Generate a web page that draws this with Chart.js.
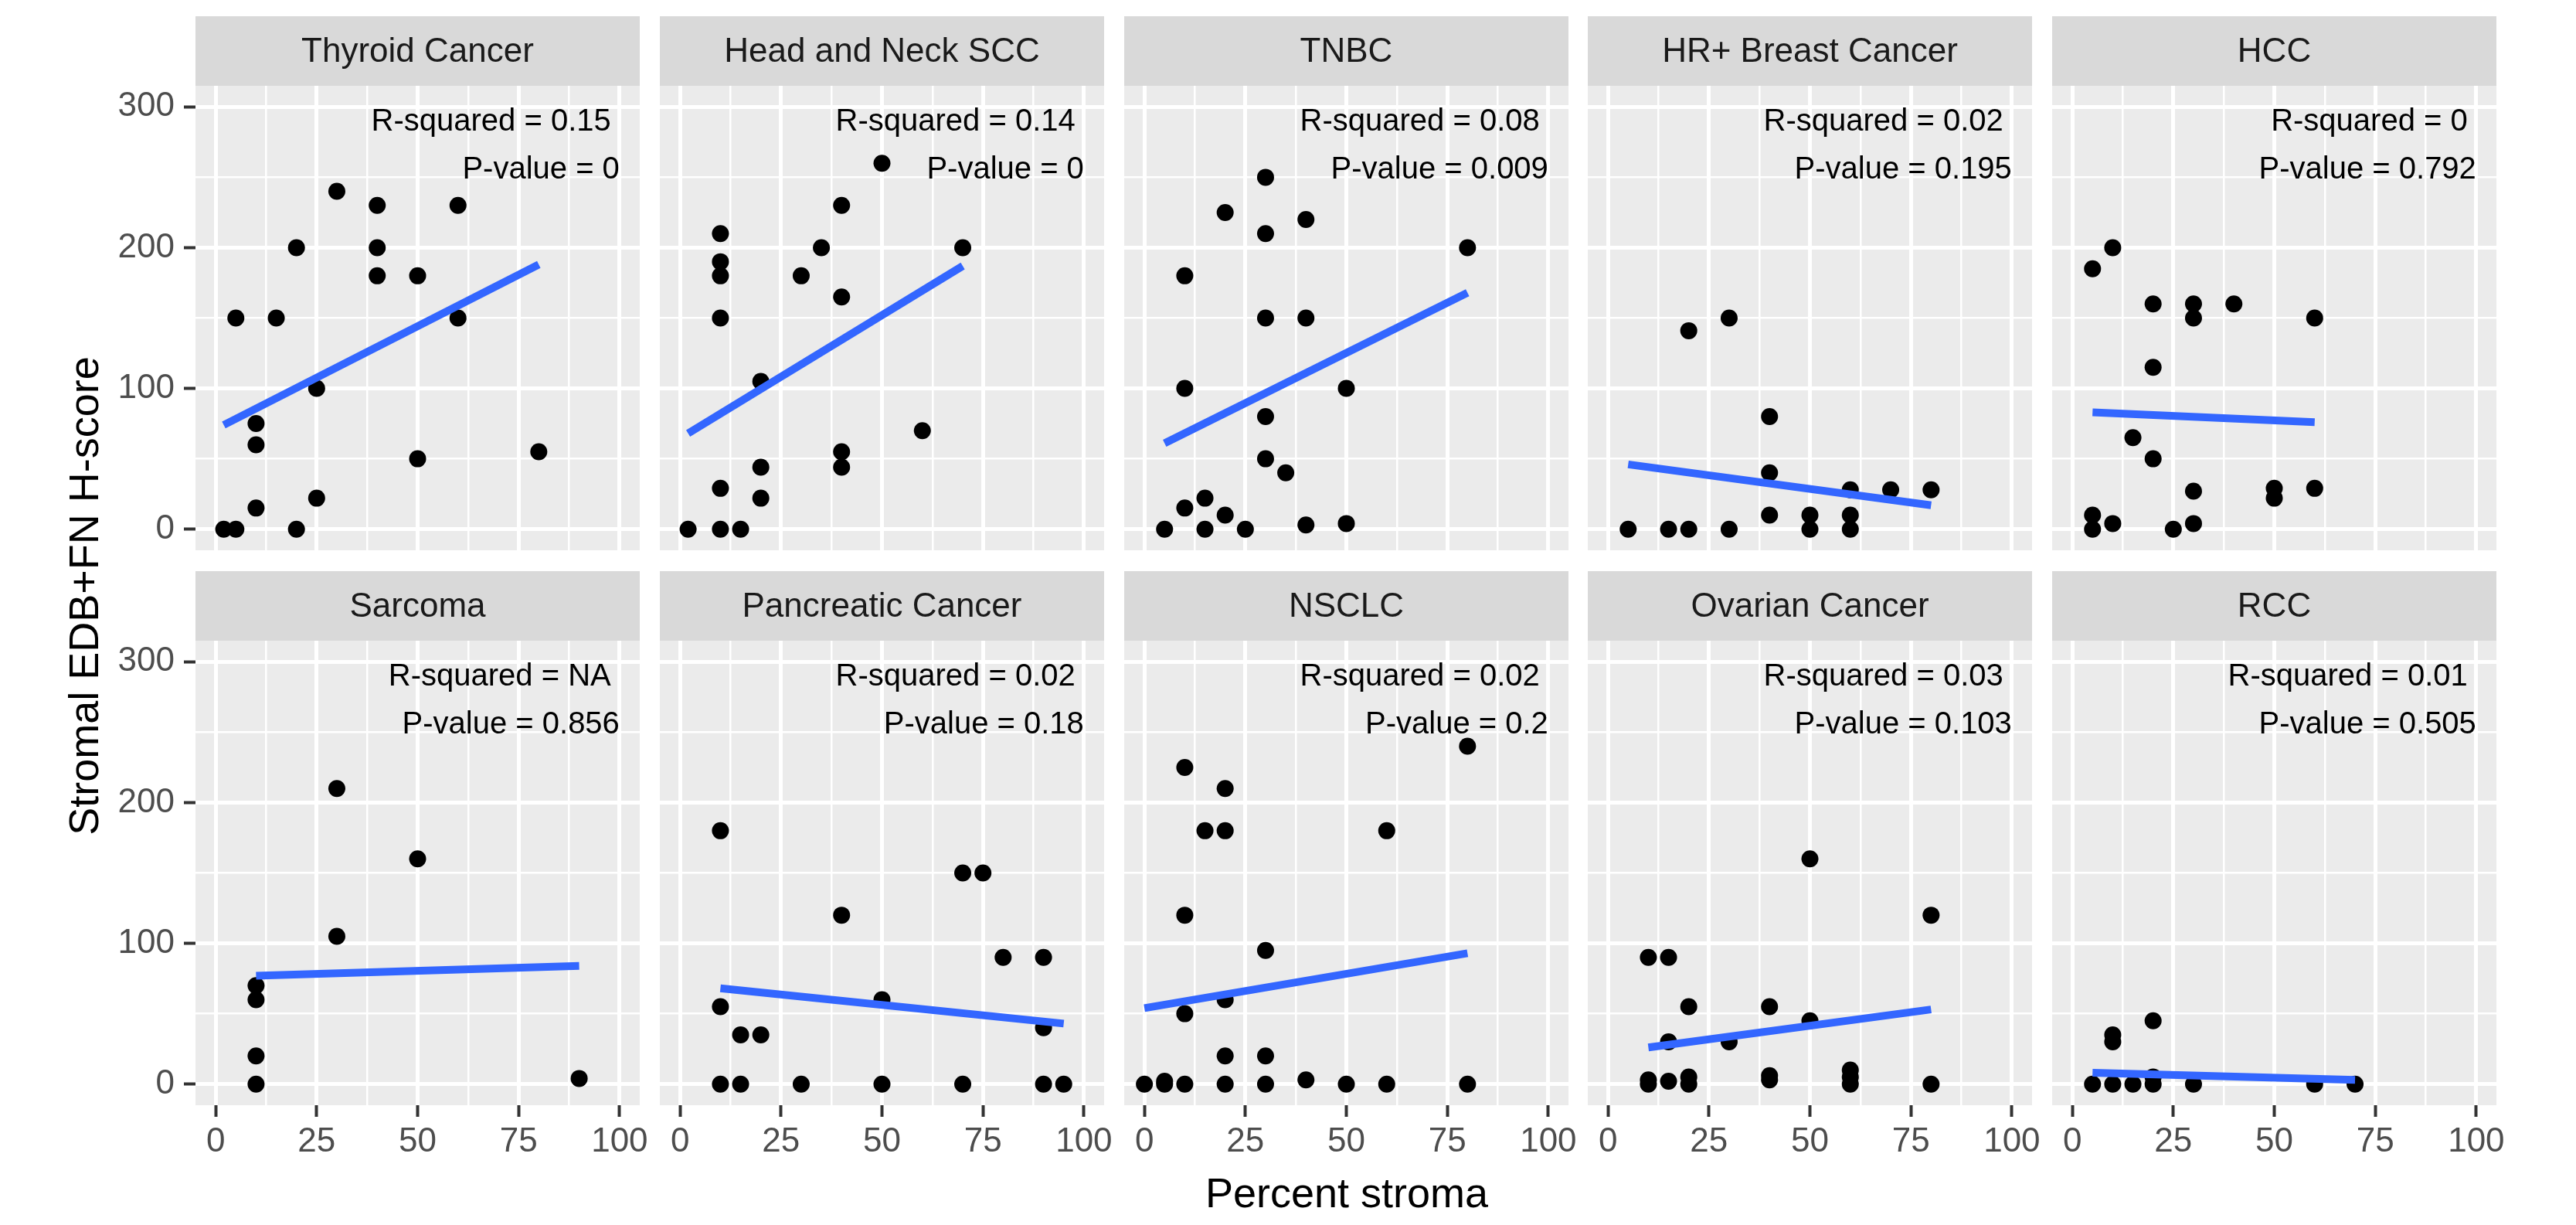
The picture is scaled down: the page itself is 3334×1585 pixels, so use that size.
<!DOCTYPE html>
<html lang="en">
<head>
<meta charset="UTF-8">
<title>Stromal EDB+FN H-score vs Percent stroma</title>
<style>
  body { margin: 0; background: #fff; }
  #wrap { position: relative; width: 3334px; height: 1585px; overflow: hidden; background: #fff; }
  #wrap canvas { position: absolute; }
  .axis-title { position: absolute; font-family: "Liberation Sans", Arial, sans-serif; font-size: 54px; line-height: 54px; color: #000; text-align: center; white-space: nowrap; }
  #ytitle { width: 800px; height: 54px; left: -292px; top: 744px; transform: rotate(-90deg); }
  #xtitle { width: 800px; height: 54px; left: 1343px; top: 1516px; }
</style>
<script src="https://cdn.jsdelivr.net/npm/chart.js"></script>
</head>
<body>
<div id="wrap">
  <div class="axis-title" id="ytitle">Stromal EDB+FN H-score</div>
  <div class="axis-title" id="xtitle">Percent stroma</div>
</div>
<script>
// facet labels and the stats printed in each panel
const panelNames = ['Thyroid Cancer', 'Head and Neck SCC', 'TNBC', 'HR+ Breast Cancer', 'HCC',
                    'Sarcoma', 'Pancreatic Cancer', 'NSCLC', 'Ovarian Cancer', 'RCC'];
const rSquaredText = ['0.15', '0.14', '0.08', '0.02', '0', 'NA', '0.02', '0.02', '0.03', '0.01'];
const pValueText = ['0', '0', '0.009', '0.195', '0.792', '0.856', '0.18', '0.2', '0.103', '0.505'];

// points: percent stroma (x) and H-score (y), one pair per panel
const thyroidStroma = [2, 5, 5, 15, 10, 10, 10, 20, 20, 25, 25, 30, 40, 40, 40, 50, 50, 60, 60, 80];
const thyroidScore  = [0, 0, 150, 150, 75, 60, 15, 200, 0, 100, 22, 240, 230, 200, 180, 180, 50, 230, 150, 55];

const hnsccStroma = [2, 10, 15, 10, 10, 10, 10, 10, 20, 20, 20, 30, 35, 40, 40, 40, 40, 50, 60, 70];
const hnsccScore  = [0, 0, 0, 29, 150, 180, 190, 210, 105, 44, 22, 180, 200, 230, 165, 55, 44, 260, 70, 200];

const tnbcStroma = [5, 10, 10, 10, 15, 15, 20, 20, 25, 30, 30, 30, 30, 30, 35, 40, 40, 40, 50, 50, 80];
const tnbcScore  = [0, 15, 180, 100, 22, 0, 225, 10, 0, 250, 210, 150, 80, 50, 40, 220, 150, 3, 100, 4, 200];

const hrStroma = [5, 15, 20, 20, 30, 30, 40, 40, 40, 50, 50, 60, 60, 60, 70, 80];
const hrScore  = [0, 0, 0, 141, 150, 0, 80, 40, 10, 0, 10, 0, 10, 28, 28, 28];

const hccStroma = [5, 10, 5, 5, 10, 15, 20, 20, 20, 25, 30, 30, 30, 30, 40, 50, 50, 60, 60];
const hccScore  = [185, 200, 10, 0, 4, 65, 160, 115, 50, 0, 160, 150, 27, 4, 160, 29, 22, 150, 29];

const sarcomaStroma = [10, 10, 10, 10, 30, 30, 50, 90];
const sarcomaScore  = [0, 20, 60, 70, 210, 105, 160, 4];

const pancStroma = [10, 10, 10, 15, 15, 20, 30, 40, 50, 50, 70, 70, 75, 80, 90, 90, 90, 95];
const pancScore  = [180, 55, 0, 0, 35, 35, 0, 120, 60, 0, 150, 0, 150, 90, 90, 40, 0, 0];

const nsclcStroma = [0, 5, 5, 10, 10, 10, 10, 15, 20, 20, 20, 20, 20, 30, 30, 30, 40, 50, 60, 60, 80, 80];
const nsclcScore  = [0, 0, 2, 0, 225, 120, 50, 180, 210, 180, 60, 20, 0, 95, 20, 0, 3, 0, 180, 0, 240, 0];

const ovarianStroma = [10, 10, 10, 15, 15, 15, 20, 20, 20, 30, 40, 40, 40, 50, 50, 60, 60, 60, 80, 80];
const ovarianScore  = [90, 0, 3, 90, 2, 30, 55, 0, 5, 30, 55, 3, 6, 160, 45, 0, 5, 10, 120, 0];

const rccStroma = [5, 10, 10, 10, 15, 20, 20, 20, 30, 60, 70];
const rccScore  = [0, 0, 30, 35, 0, 45, 5, 0, 0, 0, 0];

// fitted lines (start and end of each blue segment)
const fitXStart = [2, 2, 5, 5, 5, 10, 10, 0, 10, 5];
const fitXEnd   = [80, 70, 80, 80, 60, 90, 95, 80, 80, 70];
const fitYStart = [74, 68, 61, 46, 83, 77, 68, 54, 26, 8];
const fitYEnd   = [188, 187, 168, 17, 76, 84, 43, 93, 53, 3];

// axis ticks
const xTickLabels = [0, 25, 50, 75, 100];
const xGridValues = [0, 12.5, 25, 37.5, 50, 62.5, 75, 87.5, 100];
const yTickLabels = [0, 100, 200, 300];
const yGridValues = [0, 50, 100, 150, 200, 250, 300];

const panelStroma = [thyroidStroma, hnsccStroma, tnbcStroma, hrStroma, hccStroma,
                     sarcomaStroma, pancStroma, nsclcStroma, ovarianStroma, rccStroma];
const panelScore = [thyroidScore, hnsccScore, tnbcScore, hrScore, hccScore,
                    sarcomaScore, pancScore, nsclcScore, ovarianScore, rccScore];

// layout (px)
const FONT = '"Liberation Sans", Arial, sans-serif';
const plotW = 575, plotH = 601, stripH = 90;
const yAxisW = 120, xAxisH = 90, sidePad = 24, bottomPad = 60;
const colLeft = [253, 854, 1455, 2055, 2656];
const rowTop = [111, 829];

const wrap = document.getElementById('wrap');

// grey panel background + facet strip
const stripPlugin = {
  id: 'strip',
  beforeDraw(chart, args, opts) {
    const { ctx, chartArea: a } = chart;
    ctx.save();
    ctx.fillStyle = '#D9D9D9';
    ctx.fillRect(a.left, a.top - stripH, a.right - a.left, stripH);
    ctx.fillStyle = '#EBEBEB';
    ctx.fillRect(a.left, a.top, a.right - a.left, a.bottom - a.top);
    ctx.fillStyle = '#1A1A1A';
    ctx.font = '44px ' + FONT;
    ctx.textAlign = 'center';
    ctx.textBaseline = 'middle';
    ctx.fillText(opts.title, (a.left + a.right) / 2, a.top - stripH / 2 + 2);
    ctx.restore();
  }
};

// R-squared / P-value text, anchored top right
const statsPlugin = {
  id: 'stats',
  afterDatasetsDraw(chart, args, opts) {
    const { ctx, scales } = chart;
    const xr = scales.x.getPixelForValue(100);
    ctx.save();
    ctx.fillStyle = '#000';
    ctx.font = '40px ' + FONT;
    ctx.textAlign = 'right';
    ctx.textBaseline = 'middle';
    ctx.fillText('R-squared = ' + opts.r2 + ' ', xr, scales.y.getPixelForValue(289));
    ctx.fillText('P-value = ' + opts.p, xr, scales.y.getPixelForValue(255));
    ctx.restore();
  }
};

panelNames.forEach((name, i) => {
  const row = Math.floor(i / 5), col = i % 5;
  const isLeft = col === 0, isBottom = row === 1;
  const padL = isLeft ? 0 : sidePad;
  const padB = isBottom ? 0 : bottomPad;
  const cw = (isLeft ? yAxisW : padL) + plotW + sidePad;
  const ch = stripH + plotH + (isBottom ? xAxisH : padB);

  const canvas = document.createElement('canvas');
  canvas.width = cw;
  canvas.height = ch;
  canvas.style.width = cw + 'px';
  canvas.style.height = ch + 'px';
  canvas.style.left = (colLeft[col] - (isLeft ? yAxisW : padL)) + 'px';
  canvas.style.top = (rowTop[row] - stripH) + 'px';
  wrap.appendChild(canvas);

  const pts = panelStroma[i].map((x, k) => ({ x: x, y: panelScore[i][k] }));
  const fit = [{ x: fitXStart[i], y: fitYStart[i] }, { x: fitXEnd[i], y: fitYEnd[i] }];

  new Chart(canvas, {
    type: 'scatter',
    data: {
      datasets: [
        { data: fit, showLine: true, borderColor: '#3366FF', borderWidth: 10, borderCapStyle: 'butt',
          pointRadius: 0, order: 0 },
        { data: pts, backgroundColor: '#000000', borderWidth: 0, pointRadius: 11, order: 1 }
      ]
    },
    options: {
      responsive: false,
      animation: false,
      events: [],
      layout: { autoPadding: false, padding: { left: padL, right: sidePad, top: stripH, bottom: padB } },
      plugins: {
        legend: { display: false },
        tooltip: { enabled: false },
        strip: { title: name },
        stats: { r2: rSquaredText[i], p: pValueText[i] }
      },
      scales: {
        x: {
          type: 'linear', min: -5, max: 105,
          afterBuildTicks: s => { s.ticks = xGridValues.map(v => ({ value: v })); },
          afterFit: s => { s.height = isBottom ? xAxisH : 0; },
          border: { display: false },
          grid: {
            color: '#FFFFFF',
            lineWidth: c => (c.tick && xTickLabels.includes(c.tick.value)) ? 5 : 2.5,
            drawTicks: isBottom, tickLength: 15, tickWidth: 4,
            tickColor: c => (c.tick && xTickLabels.includes(c.tick.value)) ? '#333333' : 'rgba(0,0,0,0)'
          },
          ticks: {
            display: isBottom, autoSkip: false, maxRotation: 0, padding: 6,
            color: '#4D4D4D', font: { family: FONT, size: 44 },
            callback: v => xTickLabels.includes(v) ? String(v) : ''
          }
        },
        y: {
          type: 'linear', min: -15, max: 315,
          afterBuildTicks: s => { s.ticks = yGridValues.map(v => ({ value: v })); },
          afterFit: s => { s.width = isLeft ? yAxisW : 0; },
          border: { display: false },
          grid: {
            color: '#FFFFFF',
            lineWidth: c => (c.tick && yTickLabels.includes(c.tick.value)) ? 5 : 2.5,
            drawTicks: isLeft, tickLength: 15, tickWidth: 4,
            tickColor: c => (c.tick && yTickLabels.includes(c.tick.value)) ? '#333333' : 'rgba(0,0,0,0)'
          },
          ticks: {
            display: isLeft, autoSkip: false, padding: 12,
            color: '#4D4D4D', font: { family: FONT, size: 44 },
            callback: v => yTickLabels.includes(v) ? String(v) : ''
          }
        }
      }
    },
    plugins: [stripPlugin, statsPlugin]
  });
});
</script>
</body>
</html>
